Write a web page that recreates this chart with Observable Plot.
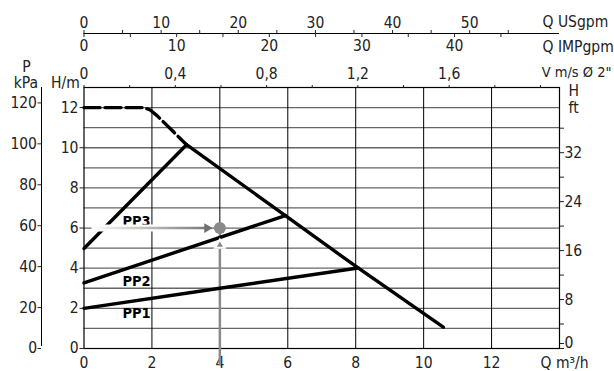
<!DOCTYPE html>
<html><head><meta charset="utf-8">
<script src="https://cdn.jsdelivr.net/npm/d3@7"></script>
<script src="https://cdn.jsdelivr.net/npm/@observablehq/plot@0.6"></script>
<style>
body{margin:0;background:#fff;}
</style></head><body><div id="chart"></div>
<script>
// ---- data ----
const qTicks = [0, 2, 4, 6, 8, 10, 12];            // Q m³/h
const hTicks = [0, 2, 4, 6, 8, 10, 12];            // H m
const hGrid = [1, 2, 3, 4, 5, 6, 7, 8, 9, 10, 11, 12];
const qGrid = [2, 4, 6, 8, 10, 12];
const pTicks = [0, 20, 40, 60, 80, 100, 120];      // kPa
const ftTicks = [0, 4, 8, 12, 16, 20, 24, 28, 32, 36];   // ft
const ftLabelled = [8, 16, 24, 32];
const ftZero = [0];
const usTicks = [0, 5, 10, 15, 20, 25, 30, 35, 40, 45, 50, 55];  // US gpm
const usLabelled = [0, 10, 20, 30, 40, 50];
const impTicks = [0, 5, 10, 15, 20, 25, 30, 35, 40, 45];         // IMP gpm
const impLabelled = [0, 10, 20, 30, 40];
const vTicks = [0, 0.2, 0.4, 0.6, 0.8, 1.0, 1.2, 1.4, 1.6, 1.8, 2.0]; // m/s
const vLabelled = [0, 0.4, 0.8, 1.2, 1.6];

// pump curve (max): dashed upper part and solid part
const maxDashed = [[0, 12], [1.75, 12], [1.95, 11.88], [2.15, 11.6], [3.02, 10.15]];
const maxSolid = [[3.02, 10.15], [5.93, 6.62], [8.07, 4.01], [10.58, 1.06]];
// constant-pressure curves
const pp3 = [[0, 4.98], [3.02, 10.15]];
const pp2 = [[0, 3.27], [5.93, 6.62]];
const pp1 = [[0, 2.0], [4, 3.0], [8.07, 4.01]];
const ppLabels = [
  {name: "PP3", q: 1.13, h: 6.32},
  {name: "PP2", q: 1.13, h: 3.34},
  {name: "PP1", q: 1.13, h: 1.77}
];
const duty = {q: 4, h: 6};

// unit conversions
const M_PER_KPA = 1 / 9.81;
const M_PER_FT = 0.3048;
const Q_PER_USGPM = 0.22712;
const Q_PER_IMPGPM = 0.27277;
const Q_PER_MS = 6.72;

const xDomain = [0, 14], yDomain = [0, 13];
const FONT = '"DejaVu Sans Condensed","Liberation Sans Narrow","Liberation Sans",sans-serif';
const fmt = v => String(v).replace(".", ",");

const plot = Plot.plot({
  width: 614, height: 371,
  marginLeft: 83.5, marginRight: 55, marginTop: 87, marginBottom: 23,
  x: {domain: xDomain, axis: null},
  y: {domain: yDomain, axis: null},
  style: {fontFamily: FONT, fontSize: "15.5px", color: "#222", background: "white", overflow: "visible"},
  marks: [
    // grid
    Plot.ruleY(hGrid, {stroke: "#666", strokeWidth: 1.3}),
    Plot.ruleX(qGrid, {stroke: "#000", strokeWidth: 1}),
    Plot.frame({stroke: "#000", strokeWidth: 1.2}),
    // bottom Q axis
    Plot.axisX(qTicks, {anchor: "bottom", tickSize: 0, tickPadding: 8, label: null}),
    // left H axis
    Plot.axisY(hTicks, {anchor: "left", tickSize: 4, tickPadding: 1.5, label: null}),
    // left P axis (kPa)
    Plot.ruleX([xDomain[0]], {dx: -42.5, y1: yDomain[0], y2: yDomain[1], insetTop: -2, stroke: "#000"}),
    Plot.axisY(pTicks.map(p => p * M_PER_KPA), {anchor: "left", dx: -42.5, tickSize: 3.5, tickPadding: 1,
      tickFormat: d => String(Math.round(d / M_PER_KPA)), label: null}),
    // right H ft axis
    Plot.axisY(ftTicks.map(f => f * M_PER_FT), {anchor: "right", tickSize: 4, tickPadding: 1,
      tickFormat: d => { const f = Math.round(d / M_PER_FT); return ftLabelled.includes(f) ? String(f) : ""; }, label: null}),
    Plot.axisY(ftZero.map(f => f * M_PER_FT), {anchor: "right", tickSize: 4, tickPadding: 1, dy: -5,
      tickFormat: d => String(Math.round(d / M_PER_FT)), label: null}),
    // top V axis
    Plot.axisX(vTicks.map(v => v * Q_PER_MS), {anchor: "top", tickSize: 3, tickPadding: 6,
      tickFormat: d => { const v = Math.round(d / Q_PER_MS * 10) / 10; return vLabelled.includes(v) ? fmt(v) : ""; }, label: null}),
    // US gpm / IMP gpm shared axis line
    Plot.ruleY([yDomain[1]], {dy: -54, x1: xDomain[0], x2: xDomain[1], stroke: "#000"}),
    Plot.axisX(usTicks.map(u => u * Q_PER_USGPM), {anchor: "top", dy: -54, tickSize: 4, tickPadding: 1.5,
      tickFormat: d => { const u = Math.round(d / Q_PER_USGPM); return usLabelled.includes(u) ? String(u) : ""; }, label: null}),
    Plot.axisX(impTicks.map(u => u * Q_PER_IMPGPM), {anchor: "bottom", dy: -315, tickSize: 4, tickPadding: 2.5,
      tickFormat: d => { const u = Math.round(d / Q_PER_IMPGPM); return impLabelled.includes(u) ? String(u) : ""; }, label: null}),
    // unit labels
    Plot.text(["Q USgpm"], {frameAnchor: "top-right", dx: -17, dy: -65.5, textAnchor: "start", lineAnchor: "middle"}),
    Plot.text(["Q IMPgpm"], {frameAnchor: "top-right", dx: -17, dy: -40.3, textAnchor: "start", lineAnchor: "middle"}),
    Plot.text(['V m/s Ø 2"'], {frameAnchor: "top-right", dx: 52, dy: -14.8, textAnchor: "end", lineAnchor: "middle", fontSize: 14.5}),
    Plot.text(["H"], {frameAnchor: "top-right", dx: 9, dy: 3.5, textAnchor: "start", lineAnchor: "middle"}),
    Plot.text(["ft"], {frameAnchor: "top-right", dx: 9, dy: 21, textAnchor: "start", lineAnchor: "middle"}),
    Plot.text(["Q m³/h"], {frameAnchor: "bottom-right", dx: -19, dy: 14.5, textAnchor: "start", lineAnchor: "middle"}),
    Plot.text(["P"], {frameAnchor: "top-left", dx: -57.5, dy: -20.5, textAnchor: "middle", lineAnchor: "middle"}),
    Plot.text(["kPa"], {frameAnchor: "top-left", dx: -58.2, dy: -4, textAnchor: "middle", lineAnchor: "middle"}),
    Plot.text(["H/m"], {frameAnchor: "top-left", dx: -18.5, dy: -4, textAnchor: "middle", lineAnchor: "middle"}),
    // vertical duty arrow shaft (under curves)
    Plot.ruleX([duty], {x: "q", y1: yDomain[0], y2: "h", insetTop: 17, stroke: "#8a8a8a", strokeWidth: 2.5}),
    // curves
    Plot.line(maxDashed, {stroke: "#000", strokeWidth: 3.4, strokeDasharray: "16,5", curve: "linear"}),
    Plot.line(maxSolid, {stroke: "#000", strokeWidth: 3.4, strokeLinecap: "round", strokeLinejoin: "round"}),
    Plot.line(pp3, {stroke: "#000", strokeWidth: 3.4, strokeLinecap: "round"}),
    Plot.line(pp2, {stroke: "#000", strokeWidth: 3.4, strokeLinecap: "round"}),
    Plot.line(pp1, {stroke: "#000", strokeWidth: 3.4, strokeLinecap: "round"}),
    Plot.text(ppLabels, {x: "q", y: "h", text: "name", textAnchor: "start", fontWeight: "bold", fontSize: 14.5, fill: "#000"}),
    // horizontal duty arrow with white halo
    Plot.ruleY([duty], {y: "h", x1: xDomain[0], x2: "q", insetLeft: 8, insetRight: 12, stroke: "white", strokeWidth: 7}),
    Plot.ruleY([duty], {y: "h", x1: xDomain[0], x2: "q", insetLeft: 9, insetRight: 13, stroke: "url(#arrowGrad)", strokeWidth: 2.5}),
    Plot.dot([duty], {x: "q", y: "h", dx: -12.8, symbol: "triangle", rotate: 90, r: 3.6, fill: "#707070", stroke: "none"}),
    Plot.dot([duty], {x: "q", y: "h", dy: 17, symbol: "triangle", r: 3.6, fill: "#8a8a8a", stroke: "white", strokeWidth: 2}),
    Plot.dot([duty], {x: "q", y: "h", r: 6, fill: "#8a8a8a", stroke: "none"})
  ]
});

// gradient for the horizontal arrow
const xs = plot.scale("x");
const defs = d3.select(plot).insert("defs", ":first-child");
const grad = defs.append("linearGradient").attr("id", "arrowGrad").attr("gradientUnits", "userSpaceOnUse")
  .attr("x1", xs.apply(xDomain[0])).attr("x2", xs.apply(duty.q)).attr("y1", 0).attr("y2", 0);
grad.append("stop").attr("offset", 0.05).attr("stop-color", "#ffffff");
grad.append("stop").attr("offset", 1).attr("stop-color", "#6a6a6a");

document.getElementById("chart").appendChild(plot);
</script>
</body></html>
